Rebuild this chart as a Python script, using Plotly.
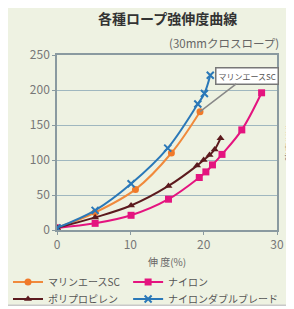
import plotly.graph_objects as go

# Data (elongation %, strength kN)
marine_x = [0, 5.2, 10.7, 15.6, 19.5]
marine_y = [3, 25, 58, 110, 169]

nylon_x = [0, 5.2, 10.1, 15.2, 19.4, 20.3, 21.2, 22.5, 25.2, 27.9]
nylon_y = [3, 9.5, 21, 44, 75, 83, 93, 108, 143, 196]

pp_x = [0, 5.2, 10.1, 15.2, 19.1, 20.0, 20.8, 21.5, 22.3]
pp_y = [3, 18, 35, 63, 92, 100, 107, 115, 131]

braid_x = [0, 5.2, 10.1, 15.1, 19.2, 20.1, 20.9]
braid_y = [3, 28, 66, 117, 180, 195, 221]

names = ["マリンエースSC", "ナイロン", "ポリプロピレン", "ナイロンダブルブレード"]
x_ticks = [0, 10, 20, 30]
y_ticks = [0, 50, 100, 150, 200, 250]

FONT = "Noto Sans CJK JP"

fig = go.Figure()
fig.add_trace(go.Scatter(x=marine_x, y=marine_y, name=names[0], mode="lines+markers",
                         legend="legend",
                         line=dict(color="#f08a3c", width=2, shape="spline"),
                         marker=dict(symbol="circle", size=7, color="#f07a2a")))
fig.add_trace(go.Scatter(x=nylon_x, y=nylon_y, name=names[1], mode="lines+markers",
                         legend="legend2",
                         line=dict(color="#e4147f", width=2, shape="spline"),
                         marker=dict(symbol="square", size=7, color="#e4147f")))
fig.add_trace(go.Scatter(x=pp_x, y=pp_y, name=names[2], mode="lines+markers",
                         legend="legend3",
                         line=dict(color="#5c1a1e", width=2, shape="spline"),
                         marker=dict(symbol="triangle-up", size=7, color="#5c1a1e")))
fig.add_trace(go.Scatter(x=braid_x, y=braid_y, name=names[3], mode="lines+markers",
                         legend="legend4",
                         line=dict(color="#2a78b8", width=2, shape="spline"),
                         marker=dict(symbol="x-thin", size=7, color="#2a78b8",
                                     line=dict(width=2, color="#2a78b8"))))

fig.add_annotation(x=marine_x[-1], y=marine_y[-1], xref="x", yref="y",
                   text="マリンエースSC", showarrow=True, ax=47, ay=-36,
                   arrowhead=0, arrowcolor="#888", arrowwidth=1.5,
                   bgcolor="white", bordercolor="#777", borderwidth=1.5, borderpad=2,
                   font=dict(family=FONT, size=8, color="#555"))

fig.add_annotation(x=0.5, y=1.0, xref="paper", yref="paper",
                   text="<b>各種ロープ強伸度曲線</b>", showarrow=False,
                   xanchor="center", yanchor="bottom", yshift=25,
                   font=dict(family=FONT, size=14, color="#333"))
fig.add_annotation(x=1.0, y=1.0, xref="paper", yref="paper",
                   text="(30mmクロスロープ)", showarrow=False,
                   xanchor="right", yanchor="bottom", yshift=2, xshift=4,
                   font=dict(family=FONT, size=11.5, color="#666"))

fig.add_shape(type="rect", xref="paper", yref="paper", x0=-0.23, x1=1.06,
              y0=-0.43, y1=1.28, line=dict(color="#c8c8c8", width=1.5),
              fillcolor="#eef2e2", layer="below")

legend_common = dict(orientation="v", xref="container", yref="container",
                     xanchor="left", yanchor="middle", tracegroupgap=0, itemwidth=30,
                     bgcolor="rgba(0,0,0,0)",
                     font=dict(family=FONT, size=10, color="#555"))

fig.update_layout(
    width=286, height=301,
    margin=dict(l=49, r=17, t=47, b=79, autoexpand=False),
    paper_bgcolor="white",
    plot_bgcolor="#c9e7f0",
    font=dict(family=FONT, color="#777"),
    showlegend=True,
    legend=dict(x=0.0, y=0.09, **legend_common),
    legend2=dict(x=0.42, y=0.09, **legend_common),
    legend3=dict(x=0.0, y=0.033, **legend_common),
    legend4=dict(x=0.42, y=0.033, **legend_common),
    xaxis=dict(range=[0, 30], tickvals=x_ticks, showgrid=False, zeroline=False,
               showline=True, linecolor="#8a9aa0", linewidth=1.5, mirror=True,
               ticks="outside", ticklen=3, tickcolor="#8a9aa0",
               tickfont=dict(size=12, color="#777"),
               title=dict(text="伸 度(%)", font=dict(size=10, color="#666"), standoff=8)),
    yaxis=dict(range=[0, 250], tickvals=y_ticks, showgrid=True, gridcolor="#9fb7bf",
               gridwidth=1, zeroline=False,
               showline=True, linecolor="#8a9aa0", linewidth=1.5, mirror=True,
               ticks="outside", ticklen=3, tickcolor="#8a9aa0",
               tickfont=dict(size=12, color="#777"),
               title=dict(text="強度(KN)", font=dict(size=9, color="#666"), standoff=4)),
)

fig.write_html("out.html")
